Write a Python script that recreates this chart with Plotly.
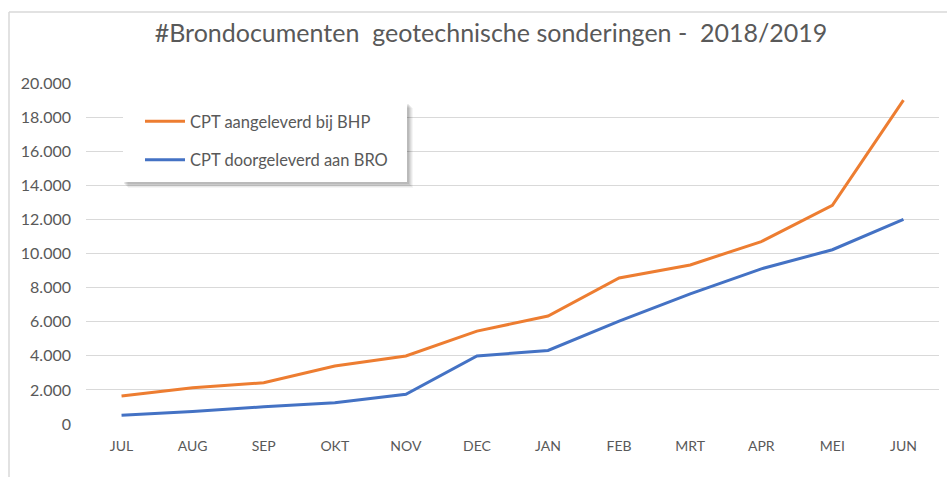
import plotly.graph_objects as go

months = ["JUL", "AUG", "SEP", "OKT", "NOV", "DEC", "JAN", "FEB", "MRT", "APR", "MEI", "JUN"]
bhp = [1640, 2120, 2420, 3400, 3990, 5450, 6330, 8560, 9330, 10700, 12830, 19000]
bro = [510, 730, 1010, 1250, 1740, 3990, 4310, 6040, 7630, 9100, 10220, 12000]
y_ticks = [0, 2000, 4000, 6000, 8000, 10000, 12000, 14000, 16000, 18000, 20000]
y_tick_text = ["0", "2.000", "4.000", "6.000", "8.000", "10.000", "12.000", "14.000", "16.000", "18.000", "20.000"]

W, H = 947, 477
L, R, T, B = 86, 8, 83, 53
pw, ph = W - L - R, H - T - B

def px(x):
    return (x - L) / pw

def py(y):
    return (H - B - y) / ph

FONT = "Lato"
GREY = "#595959"

fig = go.Figure()
fig.add_trace(go.Scatter(x=months, y=bhp, mode="lines", name="CPT aangeleverd bij BHP",
                         line=dict(color="#ED7D31", width=3), legendgroup="a"))
fig.add_trace(go.Scatter(x=months, y=bro, mode="lines", name="CPT doorgeleverd aan BRO",
                         line=dict(color="#4472C4", width=3), legendgroup="b"))

shapes = []
# soft shadow of legend box
for off, op in [(6, 0.04), (5, 0.05), (4, 0.06), (3, 0.07), (2, 0.08)]:
    shapes.append(dict(type="rect", xref="paper", yref="paper",
                       x0=px(123 + off - 1), x1=px(407 + off), y0=py(182 + off), y1=py(103 + off - 1),
                       fillcolor=f"rgba(0,0,0,{op})", line=dict(width=0), layer="above"))
shapes.append(dict(type="rect", xref="paper", yref="paper",
                   x0=px(123), x1=px(407), y0=py(182), y1=py(103),
                   fillcolor="white", line=dict(width=0), layer="above"))
# outer chart border (top and left)
shapes.append(dict(type="line", xref="paper", yref="paper",
                   x0=px(9), x1=px(W + 5), y0=py(12), y1=py(12),
                   line=dict(color="#D9D9D9", width=1.5)))
shapes.append(dict(type="line", xref="paper", yref="paper",
                   x0=px(9), x1=px(9), y0=py(12), y1=py(H + 5),
                   line=dict(color="#D9D9D9", width=1.5)))

fig.update_layout(
    width=W, height=H,
    margin=dict(l=L, r=R, t=T, b=B),
    paper_bgcolor="white", plot_bgcolor="white",
    font=dict(family=FONT, color=GREY),
    title=dict(text="#Brondocumenten  geotechnische sonderingen -  2018/2019",
               x=491 / W, xanchor="center", xref="container",
               y=1 - 33 / H, yanchor="middle", yref="container",
               font=dict(size=25, color=GREY, family=FONT)),
    xaxis=dict(type="category", range=[-0.5, 11.5], showgrid=False, zeroline=False,
               showline=False, ticks="", tickfont=dict(size=14, color=GREY),
               ticklabelstandoff=12),
    yaxis=dict(range=[0, 20000], tickvals=y_ticks, ticktext=y_tick_text,
               showgrid=True, gridcolor="#D9D9D9", gridwidth=1, zeroline=False,
               showline=False, ticks="", tickfont=dict(size=16, color=GREY),
               ticklabelstandoff=14),
    legend=dict(x=px(140), y=py(104), xanchor="left", yanchor="top",
                bgcolor="rgba(0,0,0,0)", font=dict(size=16.5, color=GREY, family=FONT),
                traceorder="grouped", tracegroupgap=14, itemwidth=40),
    shapes=shapes,
    showlegend=True,
)

fig.write_html("out.html", config={"displayModeBar": False},
               post_script="document.body.style.margin='0';")
